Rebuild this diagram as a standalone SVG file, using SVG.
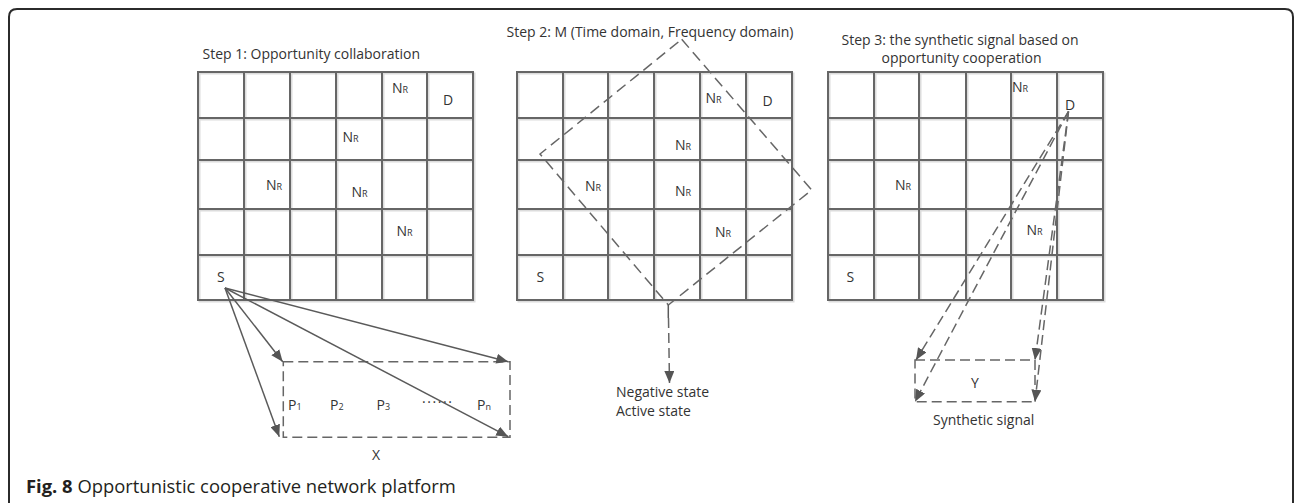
<svg xmlns="http://www.w3.org/2000/svg" width="1295" height="503" viewBox="0 0 1295 503">
<defs>
<style>
.frame{fill:none;stroke:#2b2b2b;stroke-width:2}
.grid{fill:none;stroke:#666;stroke-width:2}
.shadow{fill:none;stroke:#dcdcdc;stroke-width:2}
.t{font-family:"Open Sans","Liberation Sans",sans-serif;font-size:14px;fill:#333}
.sub{font-size:9px}
.solid{fill:none;stroke:#5a5a5a;stroke-width:1.5}
.dash{fill:none;stroke:#666;stroke-width:1.5;stroke-dasharray:10 5}
.dashl{fill:none;stroke:#666;stroke-width:1.5;stroke-dasharray:11 6}
.cap{font-family:"Open Sans","Liberation Sans",sans-serif;font-size:18.4px;fill:#231f20}
</style>
<marker id="ah" viewBox="0 0 12 10" refX="12" refY="5" markerWidth="12" markerHeight="10" markerUnits="userSpaceOnUse" orient="auto">
<path d="M0,0 L12,5 L0,10 Z" fill="#555"/>
</marker>
</defs>
<rect width="1295" height="503" fill="#fff"/>
<path class="frame" d="M9,503 V17 Q9,9 17,9 H1285 Q1293,9 1293,17 V503"/>

<g id="step1">
<text class="t" x="202.5" y="59">Step 1: Opportunity collaboration</text>
<path class="shadow" transform="translate(1.5,1.5)" d="M198,72 H473 V300 H198 Z M244,72 V300 M290,72 V300 M336,72 V300 M382,72 V300 M427,72 V300 M198,118 H473 M198,160 H473 M198,209 H473 M198,255 H473"/>
<path class="grid" d="M198,72 H473 V300 H198 Z M244,72 V300 M290,72 V300 M336,72 V300 M382,72 V300 M427,72 V300 M198,118 H473 M198,160 H473 M198,209 H473 M198,255 H473"/>
<text class="t" x="392" y="93">N<tspan class="sub">R</tspan></text>
<text class="t" x="443" y="105">D</text>
<text class="t" x="342.5" y="142">N<tspan class="sub">R</tspan></text>
<text class="t" x="266" y="190">N<tspan class="sub">R</tspan></text>
<text class="t" x="351.5" y="197">N<tspan class="sub">R</tspan></text>
<text class="t" x="396.5" y="236">N<tspan class="sub">R</tspan></text>
<text class="t" x="217" y="282">S</text>
</g>

<g id="boxX">
<rect class="dash" x="283.3" y="361.7" width="226.7" height="75.6"/>
<text class="t" x="288" y="410">P<tspan class="sub">1</tspan></text>
<text class="t" x="330" y="410">P<tspan class="sub">2</tspan></text>
<text class="t" x="376.5" y="410">P<tspan class="sub">3</tspan></text>
<text class="t" x="422" y="403" textLength="30" lengthAdjust="spacing">......</text>
<text class="t" x="477" y="410">P<tspan class="sub">n</tspan></text>
<text class="t" x="372" y="460">X</text>
</g>

<g id="step2">
<text class="t" x="506.5" y="37">Step 2:  M (Time domain, Frequency domain)</text>
<path class="shadow" transform="translate(1.5,1.5)" d="M517,72 H792 V300 H517 Z M563,72 V300 M608,72 V300 M654,72 V300 M700,72 V300 M746,72 V300 M517,118 H792 M517,160 H792 M517,209 H792 M517,255 H792"/>
<path class="grid" d="M517,72 H792 V300 H517 Z M563,72 V300 M608,72 V300 M654,72 V300 M700,72 V300 M746,72 V300 M517,118 H792 M517,160 H792 M517,209 H792 M517,255 H792"/>
<text class="t" x="705.5" y="103">N<tspan class="sub">R</tspan></text>
<text class="t" x="762.5" y="106">D</text>
<text class="t" x="675" y="150">N<tspan class="sub">R</tspan></text>
<text class="t" x="585" y="191">N<tspan class="sub">R</tspan></text>
<text class="t" x="675" y="196">N<tspan class="sub">R</tspan></text>
<text class="t" x="715" y="237">N<tspan class="sub">R</tspan></text>
<text class="t" x="536.5" y="282">S</text>
<polygon id="M" class="dashl" points="681.7,39.3 811.7,190 668.3,305 540,154"/>
<text class="t" x="616" y="397">Negative state</text>
<text class="t" x="616" y="416">Active state</text>
</g>

<g id="step3">
<text class="t" x="841.5" y="45">Step 3: the synthetic signal based on</text>
<text class="t" x="881.5" y="63">opportunity cooperation</text>
<path class="shadow" transform="translate(1.5,1.5)" d="M828,72 H1103 V300 H828 Z M874,72 V300 M919,72 V300 M966,72 V300 M1011,72 V300 M1057,72 V300 M828,118 H1103 M828,160 H1103 M828,209 H1103 M828,255 H1103"/>
<path class="grid" d="M828,72 H1103 V300 H828 Z M874,72 V300 M919,72 V300 M966,72 V300 M1011,72 V300 M1057,72 V300 M828,118 H1103 M828,160 H1103 M828,209 H1103 M828,255 H1103"/>
<text class="t" x="1012" y="92">N<tspan class="sub">R</tspan></text>
<text class="t" x="1065" y="110">D</text>
<text class="t" x="895" y="190">N<tspan class="sub">R</tspan></text>
<text class="t" x="1026.5" y="235">N<tspan class="sub">R</tspan></text>
<text class="t" x="846.5" y="282">S</text>
</g>

<g id="boxY">
<rect class="dash" x="915" y="360" width="120" height="41.7"/>
<text class="t" x="971" y="388">Y</text>
<text class="t" x="933" y="425">Synthetic signal</text>
</g>

<g id="connectors">
<line class="solid" x1="225" y1="288" x2="282.7" y2="361.7" marker-end="url(#ah)"/>
<line class="solid" x1="225" y1="288" x2="279.3" y2="436.7" marker-end="url(#ah)"/>
<line class="solid" x1="225" y1="288" x2="508.3" y2="361.7" marker-end="url(#ah)"/>
<line class="solid" x1="225" y1="288" x2="508.3" y2="436.7" marker-end="url(#ah)"/>
<path class="solid" d="M668.3,305 V318"/>
<line class="dash" x1="668.5" y1="318" x2="669.5" y2="383" marker-end="url(#ah)"/>
<line class="dash" x1="1068.5" y1="111.5" x2="916" y2="360" marker-end="url(#ah)"/>
<line class="dash" x1="1068.5" y1="111.5" x2="915" y2="401.7" marker-end="url(#ah)"/>
<line class="dash" x1="1068.5" y1="111.5" x2="1035" y2="360" marker-end="url(#ah)"/>
<line class="dash" x1="1068.5" y1="111.5" x2="1035" y2="401.7" marker-end="url(#ah)"/>
</g>

<g id="caption">
<text class="cap" x="26" y="493"><tspan font-weight="bold">Fig. 8</tspan> Opportunistic cooperative network platform</text>
</g>
</svg>
